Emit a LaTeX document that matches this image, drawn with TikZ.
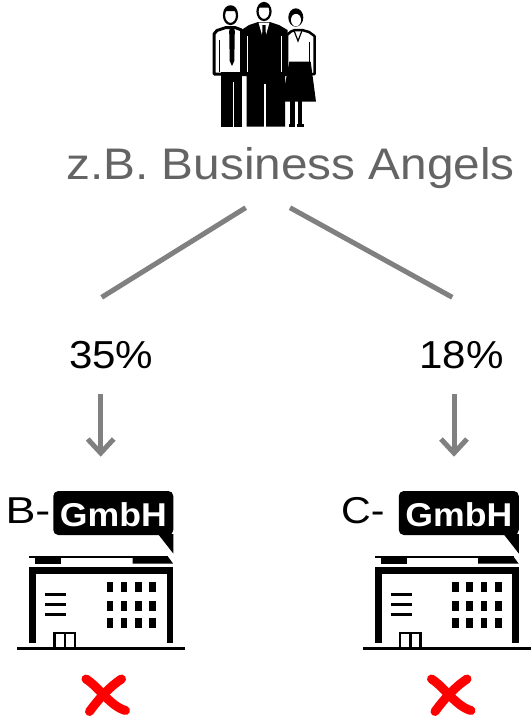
\documentclass[tikz,border=0pt]{standalone}
\usepackage{fontspec}
\setmainfont{Liberation Sans}
\usetikzlibrary{arrows.meta}
\definecolor{txtgray}{RGB}{100,100,100}
\definecolor{lngray}{RGB}{128,128,128}
\definecolor{xred}{RGB}{255,0,0}
\newcommand\mybuilding{%
  \fill[rounded corners=5pt] (53.3,491) rectangle (173.3,535);
  \fill (158,534) -- (173.3,534) -- (173.3,553.5) -- cycle;
  \fill (29.3,556) rectangle (168.3,557.8);
  \fill (35,557) rectangle (61,563.5);
  \fill (132.7,557) -- (168.3,557) -- (173,563.5) -- (132.7,563.5) -- cycle;
  \fill (29.3,567.3) rectangle (173.3,574.3);
  \fill (29.3,567.3) rectangle (36,643.3);
  \fill (166.7,567.3) rectangle (173.3,643.3);
  \fill (17.3,646.7) rectangle (185,650);
  \foreach \yy in {594.3,604,614} {\fill (45,\yy-1.5) rectangle (66,\yy+1.5);}
  \foreach \xx in {106.7,120.7,135,149.3} {\foreach \yy in {582.3,600.7,618.3} {\fill (\xx,\yy) rectangle (\xx+6.7,\yy+10);}}
  \draw[line width=2.5pt] (54.5,647) -- (54.5,633) -- (74.8,633) -- (74.8,647);
  \draw[line width=2.5pt] (65,633) -- (65,647);
  \draw[xred, line width=9pt, line cap=round] (86,679) .. controls (100,688) and (110,706) .. (125.5,710.5);
  \draw[xred, line width=9pt, line cap=round] (121.5,679) .. controls (108,688) and (98,700) .. (89.5,711.5);
}
\begin{document}
\begin{tikzpicture}[x=1pt,y=-1pt,
  conn/.style={draw=lngray, line width=5pt},
  arr/.style={draw=lngray, line width=5pt, -{Straight Barb[length=14pt,width=26pt]}},
  pct/.style={font=\fontsize{39}{44}\selectfont, xscale=1.08, anchor=base, inner sep=0pt},
  gmbh/.style={font=\bfseries\fontsize{33}{36}\selectfont, text=white, xscale=1.08, anchor=base, inner sep=0pt},
  pre/.style={font=\fontsize{37.4}{40}\selectfont, anchor=base, inner sep=0pt}]
\fill[white] (0,0) rectangle (532,723);
\useasboundingbox (0,0) rectangle (532,723);

% people icon
\fill (241.5,30) -- (249,25) -- (258,22) -- (270,22) -- (279,25) -- (287.5,30) -- (287.5,76) -- (285,76) -- (285,126.7) -- (246.5,126.7) -- (246.5,76) -- (241.5,76) -- cycle;
\fill[white] (258.5,22.5) -- (269.5,22.5) -- (264,42) -- cycle;
\fill (262.5,25) -- (265.5,25) -- (266,40) -- (264,45) -- (262,40) -- cycle;
\draw[white, line width=1.5pt] (265,84) -- (265,126.7);
\draw[white, line width=1pt] (247,36) -- (247,72) (281.5,36) -- (281.5,72);
\filldraw[fill=white, draw=black, line width=2.2pt] (264,11.5) ellipse [x radius=6.5, y radius=8.5];
\fill (257.3,11) .. controls (256,1) and (272,1) .. (270.7,11) -- (269,7.5) -- (259,7.5) -- cycle;
% left man
\filldraw[fill=white, draw=black, line width=3pt, line join=round] (214,74) -- (214,34) -- (217,30.5) -- (226,27.5) -- (235,27.5) -- (241.5,30) -- (241.5,74) -- cycle;
\draw[line width=1.5pt] (219.5,40) -- (219.5,72);
\fill (230,28) -- (234,28) -- (234.8,31) -- (234.3,61) -- (232,66) -- (229.7,61) -- (229.2,31) -- cycle;
\fill (220.5,71.5) rectangle (241.5,126.7);
\draw[white, line width=1.5pt] (233.5,82) -- (233.5,126.7);
\filldraw[fill=white, draw=black, line width=2.2pt] (230.5,15.5) ellipse [x radius=6.5, y radius=8.5];
\fill (223.5,15) .. controls (222,2) and (239,2) .. (237.5,15) -- (236,11) -- (225,11) -- cycle;
% woman
\filldraw[fill=white, draw=black, line width=2.5pt, line join=round] (287,74) -- (287,35) -- (291,31.5) -- (295,30) -- (302,30) -- (309,32) -- (314.5,36) -- (314.5,74) -- cycle;
\draw[line width=1.5pt] (309.5,42) -- (309.5,72);
\draw[line width=1.2pt] (294,30.5) -- (298,41) -- (302,30.5);
\fill (289.3,61.7) -- (310.7,61.7) -- (316,101.7) -- (281.7,101.7) -- cycle;
\fill (290,101) rectangle (294.5,125.5);
\fill (297.5,101) rectangle (302,125.5);
\fill (288.5,124) rectangle (295,126.7);
\fill (297,124) rectangle (303.5,126.7);
\fill (295.8,17.5) ellipse [x radius=7.5, y radius=9.2];
\fill[white] (296,20) ellipse [x radius=5, y radius=6.3];
\fill (289.5,16) .. controls (290,8) and (302,8) .. (302.5,16) -- (296,13.5) -- cycle;

% texts
\node[font=\fontsize{44.2}{50}\selectfont, text=txtgray, xscale=1.08, anchor=base, inner sep=0pt] (ba) at (290.5,179) {z.B. Business Angels};
\node[pct] (p35) at (111.2,368.3) {35\%};
\node[pct] (p18) at (461.5,368.3) {18\%};

% connectors
\coordinate (l1a) at (245.7,207.7);
\coordinate (l1b) at (101.7,297.3);
\coordinate (l2a) at (290,207.7);
\coordinate (l2b) at (452.3,297.3);
\draw[conn] (l1a) -- (l1b);
\draw[conn] (l2a) -- (l2b);
\coordinate (a1s) at (100.7,394);
\coordinate (a1e) at (100.7,456.7);
\coordinate (a2s) at (454,394);
\coordinate (a2e) at (454,456.7);
\draw[arr] (a1s) -- (a1e);
\draw[arr] (a2s) -- (a2e);

% buildings
\mybuilding
\begin{scope}[shift={(345.5,0)}]
\mybuilding
\end{scope}
\node[gmbh] (g1) at (113.3,526.7) {GmbH};
\node[gmbh] (g2) at (458.8,526.7) {GmbH};
\node[pre, xscale=1.2] (b) at (28,523.3) {B-};
\node[pre, xscale=1.1] (c) at (362.8,523) {C-};
\end{tikzpicture}
\end{document}
